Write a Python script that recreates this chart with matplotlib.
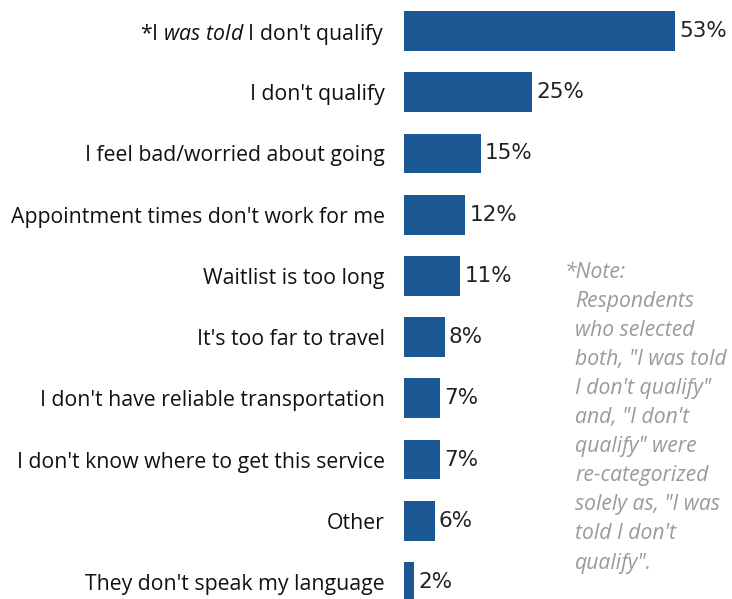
import matplotlib.pyplot as plt

# data
labels = [
    "*I $\\it{was\\ told}$ I don't qualify",
    "I don't qualify",
    "I feel bad/worried about going",
    "Appointment times don't work for me",
    "Waitlist is too long",
    "It's too far to travel",
    "I don't have reliable transportation",
    "I don't know where to get this service",
    "Other",
    "They don't speak my language",
]
values = [53, 25, 15, 12, 11, 8, 7, 7, 6, 2]

note_lines = [
    "*Note:",
    "Respondents",
    "who selected",
    "both, \"I was told",
    "I don't qualify\"",
    "and, \"I don't",
    "qualify\" were",
    "re-categorized",
    "solely as, \"I was",
    "told I don't",
    "qualify\".",
]

plt.rcParams['font.family'] = ['Open Sans', 'DejaVu Sans']
plt.rcParams['mathtext.fontset'] = 'custom'
plt.rcParams['mathtext.it'] = 'Open Sans:italic'
plt.rcParams['mathtext.rm'] = 'Open Sans'

fig = plt.figure(figsize=(7.32, 5.99), dpi=100)
ax = fig.add_axes([404 / 732, 0, 328 / 732, 1])

pos = list(range(len(values)))
ax.barh(pos, values, height=0.65, color="#1c5894")
for p, v in zip(pos, values):
    ax.text(v + 0.8, p, f"{v}%", va="center", ha="left", fontsize=15.5,
            family="DejaVu Sans", color="#222222")

ax.set_xlim(0, 53 * 328 / 271)
ax.set_ylim(9 + 17 / 61.2, -31 / 61.2)
ax.set_yticks(pos)
ax.set_yticklabels(labels, fontsize=15.3, color="#111111")
ax.tick_params(axis="y", length=0, pad=14)
ax.set_xticks([])
for s in ax.spines.values():
    s.set_visible(False)

# side note
for i, line in enumerate(note_lines):
    x = 565 if i == 0 else 575
    fig.text(x / 732, 1 - (272 + i * 29.1) / 599, line, fontsize=15.2,
             style="italic", color="#9a9a9a", va="center", ha="left")

fig.savefig("out.png", dpi=100)
